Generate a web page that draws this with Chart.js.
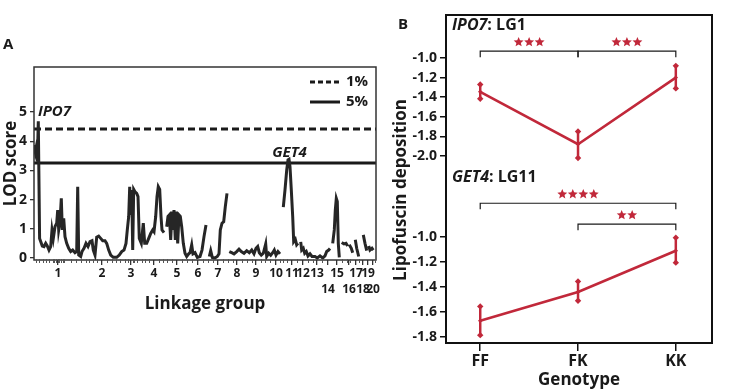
<!DOCTYPE html>
<html>
<head>
<meta charset="utf-8">
<script src="https://cdn.jsdelivr.net/npm/chart.js@4.4.1/dist/chart.umd.min.js"></script>
<style>
  html, body { margin: 0; padding: 0; background: #fff; }
  #wrap { position: relative; width: 733px; height: 390px; overflow: hidden; }
  #wrap canvas { position: absolute; top: 0; }
  #lodCanvas { left: 0; }
  #lipoCanvas { left: 380px; }
</style>
</head>
<body>
<div id="wrap">
  <canvas id="lodCanvas" width="380" height="390"></canvas>
  <canvas id="lipoCanvas" width="353" height="390"></canvas>
</div>
<script>
// ---------- Panel A data: genome scan (x = cumulative map position, y = LOD) ----------
// null in lodScore breaks the trace between linkage groups
const lodPos = [
  0.3, 1.3, 2.3, 3.3, 4.3, 5.6, 6.7, 8.3, 10, 11.7, 13.3, 15, 16.7, 18, 19.3, 21, 22.7, 23.7, 24.7, 26,
  27.3, 28.3, 29.7, 31, 32.7, 34.7, 36.7, 38.7, 41, 42.7, 43.7, 44.7, 46.7, 48, 50, 52, 54, 56, 58, 59.3,
  61, 62.7, 64.7, 66.7, 68.7, 71, 72.7, 74.7, 76.7, 79.3, 82.7, 85.3, 87.7, 90, 92, 93.3, 94.7, 95.7, 96.7, 97.7,
  98.7, 99.7, 101, 102.7, 104, 105.3, 107.3, 109.3, 110.7, 112.7, 114.7, 116.7, 118.7, 120, 121.7, 123, 124.3, 125.7, 127, 128,
  130, 131.3,
  132.7, 134, 135.3, 136.7, 138, 139, 140, 141.3, 142.3, 143.7, 145, 146.3, 147.7, 149.3, 151, 152.7,
  154.7, 156, 157.7, 159, 161, 163.3, 166, 168, 170, 172, 173.6,
  175.3, 176.7, 178.3, 181, 183.3, 185, 186.3, 188, 189.7, 191.3, 193, 194.2,
  195.3, 197.7, 200, 202.7, 205, 207.3, 210, 212.7, 215.3, 217.7, 220,
  222, 223.7, 225.3, 227.3, 229.3, 231.7, 232.7, 234.7, 236.7, 238.7, 240.3, 242, 244, 246, 247.6,
  249.3, 251, 252.7, 254, 255, 256, 257.3, 258.7, 259.7, 261.3, 262.7, 264, 265.3,
  266.7, 267.7, 269.3, 270.7, 272.3, 274, 276, 278, 281, 283.3, 286, 288.7, 291, 292.7, 294.7, 296, 297.3,
  298.7, 300.3, 301.3, 302.3, 303.3, 304.3, 305.3, 306.5,
  307.7, 310, 312, 313.7, 314.5,
  315.3, 317.3, 318.7, 320,
  321.3, 322.7, 324.7, 327,
  329.3, 331, 332.7, 333.7,
  334.7, 336, 338, 339.3
];
const lodScore = [
  3.87, 3.64, 3.81, 3.30, 4.68, 0.67, 0.56, 0.41, 0.39, 0.50, 0.41, 0.27, 0.39, 0.96, 0.67, 1.07, 1.19, 1.64, 0.96, 1.24,
  2.04, 0.96, 1.36, 0.73, 0.50, 0.33, 0.22, 0.27, 0.18, 0.22, 2.44, 0.10, 0.05, 0.22, 0.33, 0.50, 0.39, 0.56, 0.59, 0.27,
  0.10, 0.71, 0.75, 0.67, 0.59, 0.59, 0.50, 0.27, 0.10, 0.02, 0.02, 0.10, 0.22, 0.27, 0.50, 0.96, 1.42, 2.44, 1.47, 2.33,
  0.27, 2.35, 2.27, 2.21, 2.10, 0.67, 0.50, 1.19, 0.50, 0.50, 0.67, 0.84, 0.96, 0.90, 1.42, 2.10, 2.44, 2.35, 1.42, 0.96,
  0.87, null,
  1.07, 1.42, 1.47, 0.62, 1.59, 0.96, 1.64, 0.62, 1.59, 0.50, 1.47, 1.42, 1.07, 0.50, 0.16, 0.05,
  0.14, 0.18, 0.45, 0.14, 0.18, 0.02, 0.05, 0.27, 0.73, 1.13, null,
  0.05, 0.25, 0.02, 0.00, 0.05, 0.14, 0.96, 1.19, 1.24, 1.76, 2.21, null,
  0.22, 0.18, 0.14, 0.22, 0.30, 0.22, 0.16, 0.25, 0.18, 0.27, 0.14,
  0.33, 0.39, 0.18, 0.10, 0.16, 0.48, 0.05, 0.16, 0.09, 0.18, 0.27, 0.10, 0.22, 0.14, null,
  1.74, 2.33, 3.01, 3.36, 3.38, 3.13, 2.33, 1.42, 0.56, 0.64, 0.45, 0.50, null,
  0.55, 0.27, 0.33, 0.16, 0.22, 0.07, 0.14, 0.05, 0.05, 0.00, 0.07, 0.00, 0.07, 0.22, 0.27, 0.32, null,
  0.50, 0.96, 1.64, 2.04, 1.93, 0.50, 0.02, null,
  0.53, 0.48, 0.50, 0.41, null,
  0.45, 0.33, 0.18, null,
  0.62, 0.33, 0.05, null,
  0.79, 0.50, 0.25, null,
  0.41, 0.27, 0.33, 0.27
];

// linkage group label positions; row 2 labels sit on a second line
const lgPos = [24, 68, 97, 120, 143, 164, 184, 203, 222, 242, 258, 269, 283, 294, 303, 315, 322, 329, 334, 339];
const lgLabels = ['1', '2', '3', '4', '5', '6', '7', '8', '9', '10', '11', '12', '13', '14', '15', '16', '17', '18', '19', '20'];
const lgRow = [1, 1, 1, 1, 1, 1, 1, 1, 1, 1, 1, 1, 1, 2, 1, 2, 1, 2, 1, 2];

// marker positions (small rug ticks on the x axis)
const markerPos = [
  2, 5.3, 8.7, 12, 15.3, 18.7, 20.3, 22, 23.7, 25.3, 27, 28.7, 30.3, 37, 42, 47, 52, 55.3, 58.7, 62.7,
  72.7, 77.7, 82, 86, 91, 94.3, 98.7, 100.3, 103.3, 107.7, 111, 115.3, 125.3, 129.3, 132.7, 137.7, 147.7,
  152.7, 157.7, 169.3, 174.3, 179.3, 189.3, 194.3, 199.3, 207.7, 212.7, 217.7, 226.7, 231, 236, 246,
  249.3, 252.7, 262.7, 274.3, 279.3, 287.7, 307.7, 312.7, 316, 325.3, 341
];

const lodTicks = [0, 1, 2, 3, 4, 5];
const threshold1 = 4.42;   // 1% genome-wide
const threshold5 = 3.25;   // 5% genome-wide
const legendLabels = ['1%', '5%'];
const geneLabels = ['IPO7', 'GET4'];
const geneLabelPos = [20.5, 255.5];
const geneLabelLod = [5.0, 3.62];

// ---------- Panel B data: lipofuscin by genotype ----------
const genotypes = ['FF', 'FK', 'KK'];
const ipo7Mean = [-1.345, -1.88, -1.20];
const ipo7Lo = [-1.415, -2.02, -1.31];
const ipo7Hi = [-1.27, -1.75, -1.08];
const get4Mean = [-1.67, -1.44, -1.11];
const get4Lo = [-1.785, -1.51, -1.205];
const get4Hi = [-1.555, -1.355, -1.005];
const ipo7Ticks = [-1.0, -1.2, -1.4, -1.6, -1.8, -2.0];
const get4Ticks = [-1.0, -1.2, -1.4, -1.6, -1.8];

// significance brackets: axis, from genotype, to genotype, level, number of stars
const bracketAxis = ['yTop', 'yTop', 'yBot', 'yBot'];
const bracketFrom = [0, 1, 0, 1];
const bracketTo = [1, 2, 2, 2];
const bracketLevel = [-0.93, -0.93, -0.73, -0.897];
const bracketStars = [3, 3, 4, 2];

const RED = '#c1283a';
const INK = '#1a1a1a';
const FONT = "'Open Sans', 'DejaVu Sans', sans-serif";

Chart.defaults.font.family = FONT;
Chart.defaults.font.weight = 'bold';
Chart.defaults.color = INK;
Chart.defaults.animation = false;

/* ---------- helpers ---------- */

function fixedTicks(values) {
  return (scale) => { scale.ticks = values.map(v => ({ value: v })); };
}

function drawStar(ctx, cx, cy, r) {
  ctx.beginPath();
  for (let i = 0; i < 10; i++) {
    const rad = i % 2 === 0 ? r : r * 0.45;
    const a = -Math.PI / 2 + i * Math.PI / 5;
    const px = cx + rad * Math.cos(a), py = cy + rad * Math.sin(a);
    if (i === 0) ctx.moveTo(px, py); else ctx.lineTo(px, py);
  }
  ctx.closePath();
  ctx.fill();
}

/* ---------- Panel A ---------- */

const lodPoints = lodPos.map((x, i) => ({ x, y: lodScore[i] }));

const lodDecor = {
  id: 'lodDecor',
  afterDraw(chart) {
    const { ctx, chartArea: a, scales: { x, y } } = chart;
    ctx.save();
    // frame
    ctx.strokeStyle = '#333';
    ctx.lineWidth = 1.5;
    ctx.strokeRect(a.left, a.top, a.right - a.left, a.bottom - a.top);

    // marker rug
    ctx.lineWidth = 1;
    ctx.strokeStyle = '#555';
    markerPos.forEach(m => {
      const px = Math.round(x.getPixelForValue(m)) + 0.5;
      ctx.beginPath();
      ctx.moveTo(px, a.bottom - 1);
      ctx.lineTo(px, a.bottom + 3);
      ctx.stroke();
    });

    // gene names
    ctx.fillStyle = INK;
    ctx.font = `italic bold 15px ${FONT}`;
    ctx.textAlign = 'center';
    ctx.textBaseline = 'middle';
    geneLabels.forEach((g, i) => {
      ctx.fillText(g, x.getPixelForValue(geneLabelPos[i]), y.getPixelForValue(geneLabelLod[i]));
    });

    // legend (1% dashed, 5% solid)
    ctx.font = `bold 15px ${FONT}`;
    ctx.textAlign = 'left';
    ctx.lineWidth = 3;
    ctx.strokeStyle = INK;
    legendLabels.forEach((lab, i) => {
      const ly = a.top + 15 + i * 20;
      ctx.setLineDash(i === 0 ? [5, 3] : []);
      ctx.beginPath();
      ctx.moveTo(a.right - 66, ly);
      ctx.lineTo(a.right - 36, ly);
      ctx.stroke();
      ctx.fillText(lab, a.right - 30, ly);
    });
    ctx.setLineDash([]);

    // panel letter
    ctx.font = `bold 15px ${FONT}`;
    ctx.fillText('A', 3, 45);
    ctx.restore();
  }
};

new Chart(document.getElementById('lodCanvas'), {
  type: 'line',
  data: {
    datasets: [
      {
        label: 'LOD',
        data: lodPoints,
        borderColor: '#262626',
        borderWidth: 3,
        pointRadius: 0,
        tension: 0,
        spanGaps: false
      },
      {
        label: '1%',
        data: [{ x: 0, y: threshold1 }, { x: 342, y: threshold1 }],
        borderColor: INK,
        borderWidth: 3,
        borderDash: [7, 4],
        pointRadius: 0
      },
      {
        label: '5%',
        data: [{ x: 0, y: threshold5 }, { x: 342, y: threshold5 }],
        borderColor: INK,
        borderWidth: 3,
        pointRadius: 0
      }
    ]
  },
  options: {
    responsive: false,
    layout: { padding: { left: 0, right: 4, top: 67, bottom: 76 } },
    plugins: { legend: { display: false }, tooltip: { enabled: false } },
    scales: {
      x: {
        type: 'linear',
        min: 0,
        max: 342,
        afterBuildTicks: fixedTicks(lgPos),
        afterFit: (s) => { s.height = 54; },
        border: { display: false },
        grid: { drawOnChartArea: false, drawTicks: true, tickLength: 5, color: '#333', lineWidth: 1.3 },
        ticks: {
          autoSkip: false,
          maxRotation: 0,
          padding: 0,
          font: { size: 12, weight: 'bold', lineHeight: 1.35 },
          callback: (v, i) => lgRow[i] === 2 ? ['', lgLabels[i]] : lgLabels[i]
        },
        title: { display: true, text: 'Linkage group', font: { size: 17, weight: 'bold' }, padding: 0 }
      },
      y: {
        min: -0.07,
        max: 6.54,
        afterBuildTicks: fixedTicks(lodTicks),
        afterFit: (s) => { s.width = 34; },
        border: { display: false },
        grid: { drawOnChartArea: false, drawTicks: true, tickLength: 4, color: '#333', lineWidth: 1.3 },
        ticks: { padding: 3, font: { size: 14, weight: 'bold' } },
        title: { display: true, text: 'LOD score', font: { size: 17, weight: 'bold' }, padding: { top: 1 } }
      }
    }
  },
  plugins: [lodDecor]
});

/* ---------- Panel B ---------- */

const lipoDecor = {
  id: 'lipoDecor',
  afterDraw(chart) {
    const { ctx, chartArea: a, scales } = chart;
    const x = scales.x;
    ctx.save();
    // frame
    ctx.strokeStyle = '#111';
    ctx.lineWidth = 2;
    ctx.strokeRect(a.left, a.top, a.right - a.left, a.bottom - a.top);

    // brackets + stars
    bracketAxis.forEach((ax, i) => {
      const yy = scales[ax].getPixelForValue(bracketLevel[i]);
      const x0 = x.getPixelForValue(bracketFrom[i]);
      const x1 = x.getPixelForValue(bracketTo[i]);
      ctx.strokeStyle = INK;
      ctx.lineWidth = 1.2;
      ctx.beginPath();
      ctx.moveTo(x0, yy + 6);
      ctx.lineTo(x0, yy);
      ctx.lineTo(x1, yy);
      ctx.lineTo(x1, yy + 6);
      ctx.stroke();
      ctx.fillStyle = RED;
      const n = bracketStars[i];
      const mid = (x0 + x1) / 2;
      for (let k = 0; k < n; k++) {
        drawStar(ctx, mid + (k - (n - 1) / 2) * 10.5, yy - 9, 5.2);
      }
    });

    // sub-panel titles
    ctx.fillStyle = INK;
    ctx.textBaseline = 'middle';
    ctx.textAlign = 'left';
    const subTitles = [['IPO7', ': LG1', scales.yTop.getPixelForValue(-0.665)], ['GET4', ': LG11', scales.yTop.getPixelForValue(-2.215)]];
    subTitles.forEach(([gene, rest, ty]) => {
      ctx.font = `italic bold 16px ${FONT}`;
      ctx.fillText(gene, a.left + 6, ty);
      const w = ctx.measureText(gene).width;
      ctx.font = `bold 16px ${FONT}`;
      ctx.fillText(rest, a.left + 6 + w, ty);
    });

    // shared y title
    ctx.save();
    ctx.translate(21, 190);
    ctx.rotate(-Math.PI / 2);
    ctx.textAlign = 'center';
    ctx.font = `bold 17px ${FONT}`;
    ctx.fillText('Lipofuscin deposition', 0, 0);
    ctx.restore();

    // panel letter
    ctx.font = `bold 15px ${FONT}`;
    ctx.fillText('B', 18, 25);
    ctx.restore();
  }
};

function errorBarSets(lo, hi, axis) {
  return genotypes.map((g, i) => ({
    label: `${g} range`,
    yAxisID: axis,
    data: [{ x: i, y: lo[i] }, { x: i, y: hi[i] }],
    borderColor: RED,
    borderWidth: 2.5,
    pointStyle: 'rectRot',
    pointRadius: 3.2,
    pointBackgroundColor: RED,
    pointBorderWidth: 0
  }));
}

new Chart(document.getElementById('lipoCanvas'), {
  type: 'line',
  data: {
    datasets: [
      {
        label: 'IPO7',
        yAxisID: 'yTop',
        data: ipo7Mean.map((v, i) => ({ x: i, y: v })),
        borderColor: RED,
        borderWidth: 2.6,
        pointStyle: 'rectRot',
        pointRadius: 2.2,
        pointBackgroundColor: RED,
        pointBorderWidth: 0
      },
      {
        label: 'GET4',
        yAxisID: 'yBot',
        data: get4Mean.map((v, i) => ({ x: i, y: v })),
        borderColor: RED,
        borderWidth: 2.6,
        pointStyle: 'rectRot',
        pointRadius: 2.2,
        pointBackgroundColor: RED,
        pointBorderWidth: 0
      },
      ...errorBarSets(ipo7Lo, ipo7Hi, 'yTop'),
      ...errorBarSets(get4Lo, get4Hi, 'yBot')
    ]
  },
  options: {
    responsive: false,
    layout: { padding: { left: 0, right: 21, top: 15, bottom: 0 } },
    plugins: { legend: { display: false }, tooltip: { enabled: false } },
    scales: {
      x: {
        type: 'linear',
        min: -0.35,
        max: 2.37,
        afterBuildTicks: fixedTicks([0, 1, 2]),
        afterFit: (s) => { s.height = 47; },
        border: { display: false },
        grid: { drawOnChartArea: false, drawTicks: true, tickLength: 8, color: '#111', lineWidth: 1.5 },
        ticks: { padding: 1, font: { size: 16, weight: 'bold' }, callback: (v) => genotypes[v] },
        title: { display: true, text: 'Genotype', font: { size: 17, weight: 'bold' }, padding: 0 }
      },
      yTop: {
        type: 'linear',
        position: 'left',
        stack: 'lipo',
        stackWeight: 180,
        weight: 2,
        min: -2.398,
        max: -0.561,
        afterBuildTicks: fixedTicks(ipo7Ticks),
        afterFit: (s) => { s.width = 66; },
        border: { display: false },
        grid: { drawOnChartArea: false, drawTicks: true, tickLength: 6, color: '#111', lineWidth: 1.5 },
        ticks: { padding: 3, font: { size: 14, weight: 'bold' }, callback: (v) => v.toFixed(1) }
      },
      yBot: {
        type: 'linear',
        position: 'left',
        stack: 'lipo',
        stackWeight: 148,
        weight: 1,
        min: -1.848,
        max: -0.664,
        afterBuildTicks: fixedTicks(get4Ticks),
        afterFit: (s) => { s.width = 66; },
        border: { display: false },
        grid: { drawOnChartArea: false, drawTicks: true, tickLength: 6, color: '#111', lineWidth: 1.5 },
        ticks: { padding: 3, font: { size: 14, weight: 'bold' }, callback: (v) => v.toFixed(1) }
      }
    }
  },
  plugins: [lipoDecor]
});
</script>
</body>
</html>
